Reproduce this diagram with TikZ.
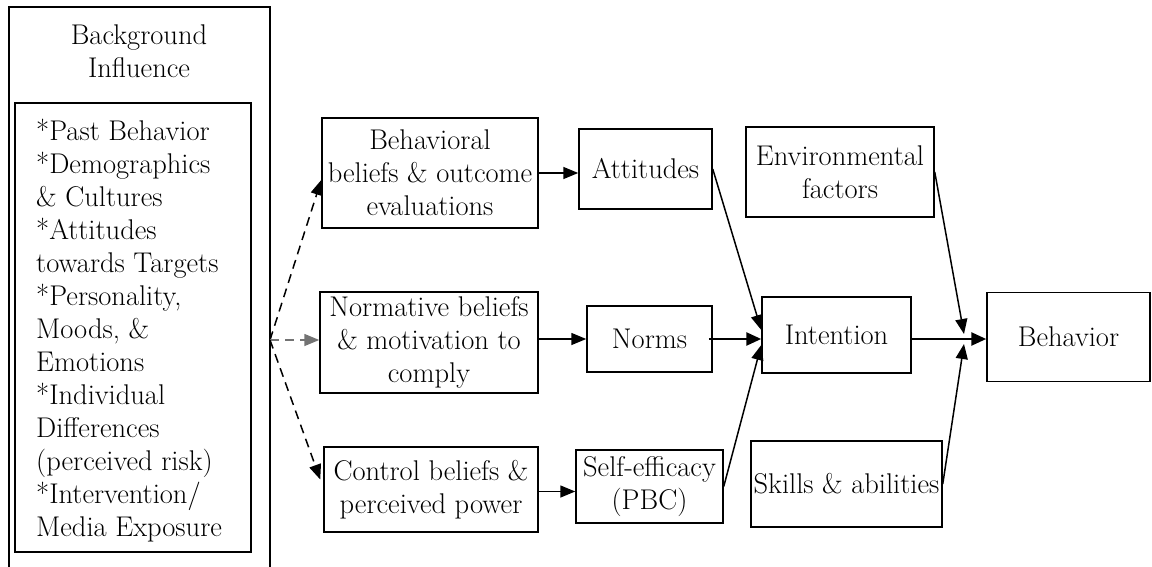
\documentclass[tikz,border=0pt]{standalone}
\usetikzlibrary{arrows.meta}
\begin{document}
\begin{tikzpicture}[x=1pt,y=-1pt,
  txt/.style={font=\fontsize{28.5}{33}\selectfont, inner sep=0pt},
  box/.style={txt, draw, line width=1.5pt, align=center},
  link/.style={line width=1.5pt, -{Triangle[length=15pt,width=12pt]}},
  strong/.style={line width=2.6pt, -{Triangle[length=15pt,width=13pt]}},
  dashlink/.style={link, dash pattern=on 9pt off 6pt}]
\useasboundingbox (0,0) rectangle (1152,567);
\clip (0,0) rectangle (1152,567);

% background influences column
\node[draw, line width=1.5pt, inner sep=0pt, minimum width=261pt, minimum height=573pt] (bg) at (139.5,293.5) {};
\node[txt, align=center] (bgtitle) at (139,51.5) {Background\\Influence};
\node[draw, line width=1.5pt, inner sep=0pt, minimum width=236pt, minimum height=449pt] (bglist) at (133,327.5) {};
\node[txt, align=left, anchor=west] (bgitems) at (36,331) {*Past Behavior\\*Demographics\\\& Cultures\\*Attitudes\\towards Targets\\*Personality,\\Moods, \&\\Emotions\\*Individual\\Differences\\(perceived risk)\\*Intervention/\\Media Exposure};

% belief boxes
\node[box, minimum width=216pt, minimum height=110pt] (bb) at (430,173) {Behavioral\\beliefs \& outcome\\evaluations};
\node[box, minimum width=218pt, minimum height=101pt] (nb) at (429,342.5) {Normative beliefs\\\& motivation to\\comply};
\node[box, minimum width=214pt, minimum height=85pt] (cb) at (431,489.5) {Control beliefs \&\\perceived power};

% determinants
\node[box, minimum width=133pt, minimum height=80pt] (att) at (645.5,169) {Attitudes};
\node[box, minimum width=125pt, minimum height=66pt] (norm) at (649.5,339) {Norms};
\node[box, minimum width=147pt, minimum height=73pt] (se) at (649.5,486.5) {Self-efficacy\\(PBC)};

% intention, moderators and behavior
\node[box, minimum width=149pt, minimum height=76pt] (int) at (836.5,335) {Intention};
\node[box, minimum width=188pt, minimum height=90pt] (env) at (840,172) {Environmental\\factors};
\node[box, minimum width=191pt, minimum height=86pt] (sk) at (846.5,484) {Skills \& abilities};
\node[box, minimum width=163pt, minimum height=89pt] (beh) at (1068.5,337) {Behavior};

% connectors
\coordinate (src) at (270,340);
\coordinate (junc) at (964,339);

\draw[dashlink] (src) -- ([yshift=-7pt]bb.west);
\draw[dashlink, black!55] (src) -- (nb.west |- src);
\draw[dashlink] (src) -- ([xshift=-3pt,yshift=10pt]cb.west);

\draw[link] (bb.east) -- (att.west |- bb.east);
\draw[link] (nb.east |- norm.west) -- (norm.west);
\draw[link] ([yshift=-2pt]cb.east) -- ([yshift=-2pt]cb.east -| se.west);

\draw[link] (att.east) -- ([yshift=5pt]int.west);
\draw[strong] ([xshift=-4pt]norm.east) -- (int.west |- norm.east);
\draw[link] (se.east) -- ([yshift=-10pt]int.west);

\draw[link] (env.east) -- ([yshift=5pt]junc);
\draw[link] (sk.east) -- ([yshift=-5pt]junc);
\draw[strong] (int.east |- junc) -- (beh.west |- junc);
\end{tikzpicture}
\end{document}
